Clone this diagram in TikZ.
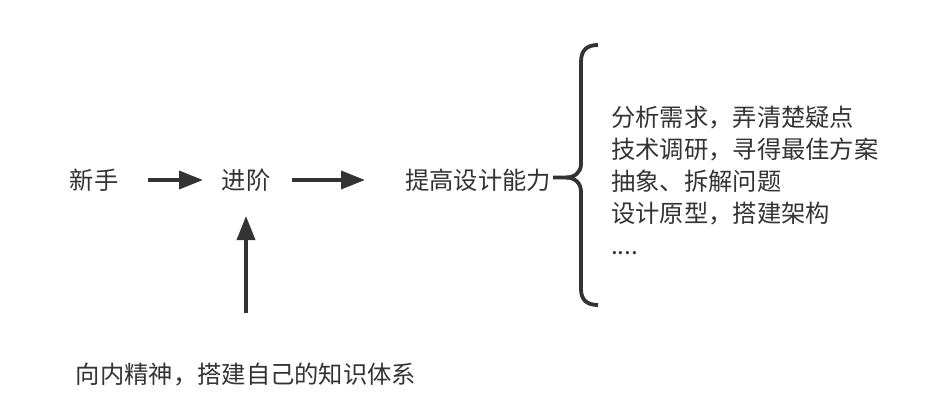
\documentclass[tikz,border=0pt]{standalone}
\usepackage{fontspec}
\setmainfont{Noto Sans CJK SC}
\usetikzlibrary{arrows.meta}
\definecolor{txt}{HTML}{333333}
\begin{document}
\begin{tikzpicture}[x=1pt,y=-1pt,
  lbl/.style={inner sep=0pt, text=txt, font=\fontsize{24.3}{32}\selectfont},
  arr/.style={draw=txt, line width=3.5pt, -{Triangle[length=24pt,width=18pt]}},
  brace/.style={draw=txt, line width=3.8pt, line join=round}]
\useasboundingbox (0,0) rectangle (941,418);
\node[lbl] (a) at (94,180) {新手};
\node[lbl] (b) at (246,180) {进阶};
\node[lbl] (c) at (478,180) {提高设计能力};
\node[lbl, anchor=west, align=left] (d) at (611,180) {分析需求，弄清楚疑点\\技术调研，寻得最佳方案\\抽象、拆解问题\\设计原型，搭建架构\\....};
\node[lbl] (e) at (246,375) {向内精神，搭建自己的知识体系};
\coordinate (s) at (246,313);
\draw[arr, shorten <=54pt, shorten >=43pt] (a.center) -- (b.center);
\draw[arr, shorten <=46pt, shorten >=113pt] (b.center) -- (c.center);
\draw[arr, shorten >=36pt] (s) -- (b.center);
\draw[brace] (598,45) .. controls (587,45) and (581,50) .. (581,62)
  -- (581,164) .. controls (581,172) and (575,177.5) .. (566,177.5) -- (553,177.5);
\draw[brace] (566,177.5) .. controls (575,177.5) and (581,183) .. (581,192)
  -- (581,289) .. controls (581,300) and (587,305) .. (598,305);
\end{tikzpicture}
\end{document}
